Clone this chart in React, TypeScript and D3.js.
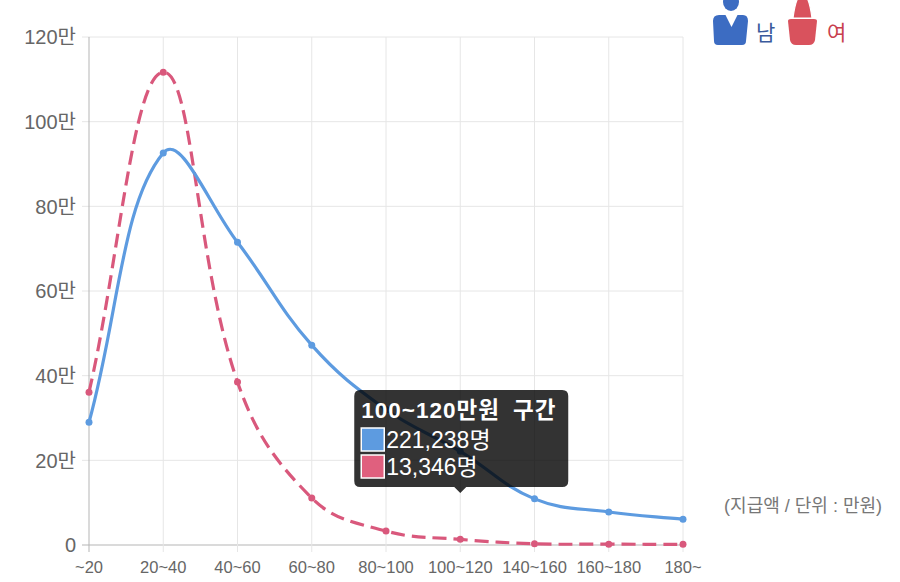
import { useEffect, useRef } from "react";
import * as d3 from "d3";

// 지급액 구간 (만원) - 원본 차트의 라벨 그대로
const categories = ["~20", "20~40", "40~60", "60~80", "80~100", "100~120", "140~160", "160~180", "180~"];
const maleCounts = [290000, 926000, 715000, 472000, 320000, 221238, 109000, 78000, 61000];
const femaleCounts = [361000, 1117000, 385000, 111000, 33000, 13346, 3000, 2000, 1500];
const yTicks = [0, 200000, 400000, 600000, 800000, 1000000, 1200000];
const tooltipIndex = 5;
const tooltipTitle = "100~120만원 구간";

const BLUE = "#5d9be0";
const RED = "#d9587c";
const FONT = "'Liberation Sans', 'Noto Sans CJK KR', sans-serif";

// Chart.js 스타일 베지어 (tension 0.4, 차트 영역에 클램프)
function splinePath(pts: [number, number][], top: number, bottom: number, left: number, right: number) {
    const t = 0.4;
    const cps = pts.map((cur, i) => {
        const prev = pts[i - 1] ?? cur;
        const next = pts[i + 1] ?? cur;
        const d01 = Math.hypot(cur[0] - prev[0], cur[1] - prev[1]);
        const d12 = Math.hypot(next[0] - cur[0], next[1] - cur[1]);
        let s01 = d01 / (d01 + d12);
        let s12 = d12 / (d01 + d12);
        if (isNaN(s01)) s01 = 0;
        if (isNaN(s12)) s12 = 0;
        const fa = t * s01;
        const fb = t * s12;
        const clamp = (p: [number, number]): [number, number] => [
            Math.max(left, Math.min(right, p[0])),
            Math.max(top, Math.min(bottom, p[1])),
        ];
        return {
            prevCP: clamp([cur[0] - fa * (next[0] - prev[0]), cur[1] - fa * (next[1] - prev[1])]),
            nextCP: clamp([cur[0] + fb * (next[0] - prev[0]), cur[1] + fb * (next[1] - prev[1])]),
        };
    });
    const p = d3.path();
    p.moveTo(pts[0][0], pts[0][1]);
    for (let i = 1; i < pts.length; i++) {
        const a = cps[i - 1].nextCP;
        const b = cps[i].prevCP;
        p.bezierCurveTo(a[0], a[1], b[0], b[1], pts[i][0], pts[i][1]);
    }
    return p.toString();
}

export default function App() {
    const ref = useRef<SVGSVGElement>(null);

    useEffect(() => {
        if (!ref.current) return;
        document.body.style.margin = "0";
        const svg = d3.select(ref.current);
        svg.selectAll("*").remove();

        const left = 89, right = 683, top = 37, bottom = 545;

        const x = d3.scalePoint<string>().domain(categories).range([left, right]);
        const y = d3.scaleLinear().domain([0, 1200000]).range([bottom, top]);

        const fmt = (v: number) => (v === 0 ? "0" : `${v / 10000}만`);

        // grid
        svg.append("g")
            .selectAll("line")
            .data(yTicks)
            .join("line")
            .attr("x1", left - 7)
            .attr("x2", right)
            .attr("y1", (d) => y(d))
            .attr("y2", (d) => y(d))
            .attr("stroke", (d) => (d === 0 ? "#b5b5b5" : "#e6e6e6"))
            .attr("stroke-width", 1);

        svg.append("g")
            .selectAll("line")
            .data(categories)
            .join("line")
            .attr("x1", (d) => x(d)!)
            .attr("x2", (d) => x(d)!)
            .attr("y1", top)
            .attr("y2", bottom + 7)
            .attr("stroke", (d, i) => (i === 0 ? "#b5b5b5" : "#e6e6e6"))
            .attr("stroke-width", 1);

        // y labels
        svg.append("g")
            .selectAll("text")
            .data(yTicks)
            .join("text")
            .attr("x", 76)
            .attr("y", (d) => y(d))
            .attr("dy", "0.36em")
            .attr("text-anchor", "end")
            .attr("fill", "#666")
            .attr("font-family", FONT)
            .attr("font-size", 20)
            .text(fmt);

        // x labels
        svg.append("g")
            .selectAll("text")
            .data(categories)
            .join("text")
            .attr("x", (d) => x(d)!)
            .attr("y", 573)
            .attr("text-anchor", "middle")
            .attr("fill", "#666")
            .attr("font-family", FONT)
            .attr("font-size", 16.5)
            .text((d) => d);

        const series = [
            { values: maleCounts, color: BLUE, dash: null as string | null },
            { values: femaleCounts, color: RED, dash: "14,7" },
        ];

        series.slice().reverse().forEach((s) => {
            const pts = s.values.map((v, i) => [x(categories[i])!, y(v)] as [number, number]);
            svg.append("path")
                .attr("d", splinePath(pts, top, bottom, left, right))
                .attr("fill", "none")
                .attr("stroke", s.color)
                .attr("stroke-width", 3.2)
                .attr("stroke-dasharray", s.dash);
            svg.append("g")
                .selectAll("circle")
                .data(pts)
                .join("circle")
                .attr("cx", (d) => d[0])
                .attr("cy", (d) => d[1])
                .attr("r", 3.5)
                .attr("fill", s.color);
        });

        // unit note
        svg.append("text")
            .attr("x", 882)
            .attr("y", 512)
            .attr("text-anchor", "end")
            .attr("fill", "#777")
            .attr("font-family", FONT)
            .attr("font-size", 18)
            .text("(지급액 / 단위 : 만원)");

        // tooltip
        const tx = x(categories[tooltipIndex])!;
        const tip = svg.append("g");
        const bx = tx - 106, by = 390, bw = 214, bh = 97;
        tip.append("path")
            .attr(
                "d",
                `M${bx + 6},${by} H${bx + bw - 6} Q${bx + bw},${by} ${bx + bw},${by + 6} V${bh + by - 6} Q${bx + bw},${by + bh} ${bx + bw - 6},${by + bh} H${tx + 6} L${tx},${by + bh + 6} L${tx - 6},${by + bh} H${bx + 6} Q${bx},${by + bh} ${bx},${by + bh - 6} V${by + 6} Q${bx},${by} ${bx + 6},${by} Z`
            )
            .attr("fill", "rgba(0,0,0,0.8)");
        tip.append("text")
            .attr("x", bx + 7)
            .attr("y", by + 28)
            .attr("fill", "#fff")
            .attr("font-family", FONT)
            .attr("font-weight", "bold")
            .attr("font-size", 22.5)
            .attr("letter-spacing", 1)
            .attr("word-spacing", 6)
            .text(tooltipTitle);
        const rows = [
            { v: maleCounts[tooltipIndex], c: BLUE },
            { v: femaleCounts[tooltipIndex], c: "#e0607e" },
        ];
        rows.forEach((r, i) => {
            const ry = by + 38 + i * 27;
            tip.append("rect")
                .attr("x", bx + 7)
                .attr("y", ry)
                .attr("width", 23)
                .attr("height", 23)
                .attr("fill", r.c)
                .attr("stroke", "#fff")
                .attr("stroke-width", 1.5);
            tip.append("text")
                .attr("x", bx + 32)
                .attr("y", ry + 20)
                .attr("fill", "#fff")
                .attr("font-family", FONT)
                .attr("font-size", 23)
                .text(`${d3.format(",")(r.v)}명`);
        });

        // legend icons
        const lg = svg.append("g");
        // man
        lg.append("ellipse").attr("cx", 731).attr("cy", 2).attr("rx", 8).attr("ry", 9).attr("fill", "#3c6cc2");
        lg.append("path")
            .attr("d", "M713,21 Q713,15 719,15 L743,15 Q748,15 748,21 L746,41 Q746,45 742,45 L718,45 Q714,45 714,41 Z")
            .attr("fill", "#3c6cc2");
        lg.append("path").attr("d", "M725,14 L731.5,27 L738,14 Z").attr("fill", "#fff");
        lg.append("text")
            .attr("x", 756)
            .attr("y", 40)
            .attr("fill", "#3a5a9c")
            .attr("font-family", FONT)
            .attr("font-size", 21)
            .text("남");
        // woman
        lg.append("path")
            .attr("d", "M788,21 Q788,19 791,19 L814,19 Q817,19 817,21 L815,40 Q814,45 809,45 L796,45 Q791,45 790,40 Z")
            .attr("fill", "#d9525d");
        lg.append("path")
            .attr("d", "M793,18 Q795,3 798,-2 L807,-2 Q810,3 812,18 Z")
            .attr("fill", "#d9525d")
            .attr("stroke", "#fff")
            .attr("stroke-width", 1.2);
        lg.append("text")
            .attr("x", 827)
            .attr("y", 40)
            .attr("fill", "#c8404e")
            .attr("font-family", FONT)
            .attr("font-size", 21)
            .text("여");
    }, []);

    return <svg ref={ref} width={900} height={582} style={{ display: "block", background: "#fff" }} />;
}
